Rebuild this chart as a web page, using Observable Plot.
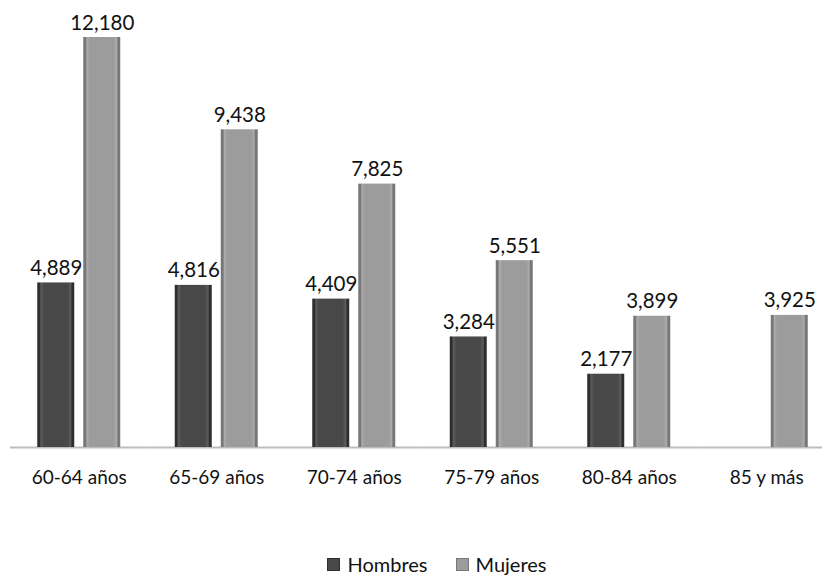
<!DOCTYPE html>
<html>
<head>
<meta charset="utf-8">
<script src="https://cdn.jsdelivr.net/npm/d3@7"></script>
<script src="https://cdn.jsdelivr.net/npm/@observablehq/plot@0.6"></script>
<style>
  html, body { margin: 0; padding: 0; background: #fff; }
  body { width: 822px; height: 577px; overflow: hidden; font-family: Lato, "Open Sans", sans-serif; }
  #legend { display: flex; justify-content: center; align-items: center; gap: 28px; margin-top: 52px; font-size: 20px; color: #111; padding-left: 52px; }
  #legend span.item { display: flex; align-items: center; gap: 7px; }
  #legend span.sw { width: 11px; height: 11px; display: inline-block; }
</style>
</head>
<body>
<div id="chart"></div>
<div id="legend"></div>
<script>
const categories = ["60-64 años", "65-69 años", "70-74 años", "75-79 años", "80-84 años", "85 y más"];
const series = ["Hombres", "Mujeres"];
const hombres = [4889, 4816, 4409, 3284, 2177, null];
const mujeres = [12180, 9438, 7825, 5551, 3899, 3925];
const seriesColors = ["#484848", "#9c9c9c"];

const data = [];
categories.forEach((c, i) => {
  if (hombres[i] != null) data.push({group: c, sex: "Hombres", value: hombres[i]});
  if (mujeres[i] != null) data.push({group: c, sex: "Mujeres", value: mujeres[i]});
});

const chart = Plot.plot({
  width: 822,
  height: 500,
  marginTop: 37,
  marginBottom: 53,
  marginLeft: 10,
  marginRight: -13,
  style: {fontFamily: "Lato, 'Open Sans', sans-serif", fontSize: "19px", color: "#111", background: "#fff"},
  fx: {domain: categories, padding: 0, round: false, label: null, axis: "bottom", tickSize: 0, tickPadding: 23},
  x: {domain: series, paddingInner: 0.1957, paddingOuter: 0.5924, round: false, axis: null},
  y: {domain: [0, 12180], axis: null},
  color: {domain: series, range: ["url(#gH)", "url(#gM)"]},
  marks: [
    Plot.ruleY([0], {stroke: "#bdbdbd", strokeWidth: 2}),
    Plot.barY(data, {fx: "group", x: "sex", y: "value", fill: "sex"}),
    Plot.text(data, {fx: "group", x: "sex", y: "value", text: d => d3.format(",")(d.value), lineAnchor: "bottom", dy: -8, fontSize: 20.5, fill: "#111"})
  ]
});

// bevel gradients
const ns = "http://www.w3.org/2000/svg";
const svg = chart.tagName.toLowerCase() === "svg" ? chart : chart.querySelector("svg");
const defs = document.createElementNS(ns, "defs");
function grad(id, edge, light, mid) {
  const g = document.createElementNS(ns, "linearGradient");
  g.setAttribute("id", id);
  g.setAttribute("x1", "0"); g.setAttribute("x2", "1"); g.setAttribute("y1", "0"); g.setAttribute("y2", "0");
  [[0, edge], [0.06, edge], [0.1, light], [0.18, mid], [0.82, mid], [0.9, light], [0.94, edge], [1, edge]].forEach(([o, c]) => {
    const s = document.createElementNS(ns, "stop");
    s.setAttribute("offset", o);
    s.setAttribute("stop-color", c);
    g.appendChild(s);
  });
  defs.appendChild(g);
}
grad("gH", "#2e2e2e", "#5c5c5c", seriesColors[0]);
grad("gM", "#777777", "#ababab", seriesColors[1]);
svg.insertBefore(defs, svg.firstChild);

document.getElementById("chart").appendChild(chart);

const legend = document.getElementById("legend");
series.forEach((s, i) => {
  const item = document.createElement("span");
  item.className = "item";
  const sw = document.createElement("span");
  sw.className = "sw";
  sw.style.background = seriesColors[i];
  sw.style.border = "1px solid " + (i === 0 ? "#2e2e2e" : "#777");
  item.appendChild(sw);
  item.appendChild(document.createTextNode(s));
  legend.appendChild(item);
});
</script>
</body>
</html>
